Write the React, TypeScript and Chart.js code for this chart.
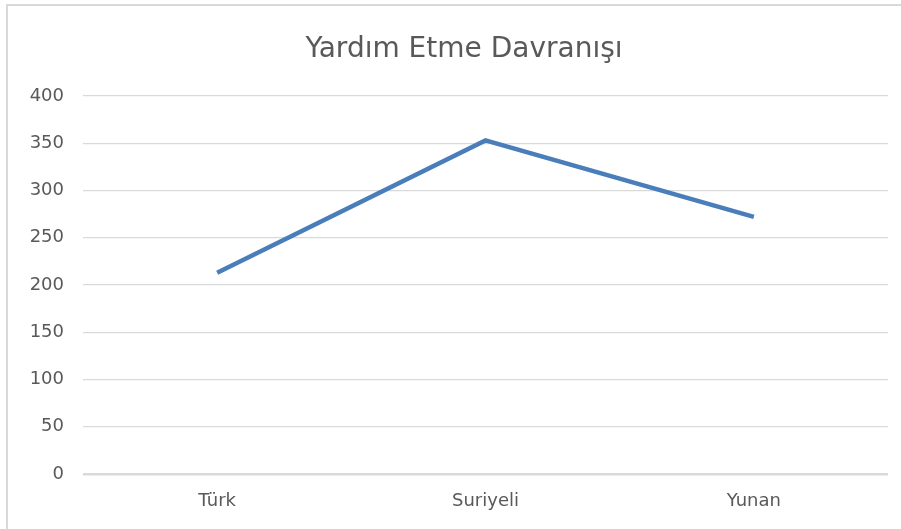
import React, { useEffect, useRef } from "react";
import { Chart, registerables } from "chart.js";

Chart.register(...registerables);

const categories = ["Türk", "Suriyeli", "Yunan"];
const values = [213, 353, 272];
const yTicks = [0, 50, 100, 150, 200, 250, 300, 350, 400];
const title = "Yardım Etme Davranışı";

const titlePlugin = {
  id: "offsetTitle",
  afterDraw(chart: any) {
    const c = chart.ctx;
    c.save();
    c.font = "normal 28px 'DejaVu Sans'";
    c.fillStyle = "#595959";
    c.textAlign = "center";
    c.textBaseline = "alphabetic";
    c.fillText(title, 464, 57);
    c.restore();
  },
};

export default function App() {
  const ref = useRef<HTMLCanvasElement | null>(null);
  useEffect(() => {
    document.body.style.margin = "0";
    const ctx = ref.current!;
    const chart = new Chart(ctx, {
      type: "line",
      data: {
        labels: categories,
        datasets: [
          {
            data: values,
            borderColor: "#4a7ebb",
            borderWidth: 4.5,
            pointRadius: 0,
            tension: 0,
            fill: false,
          },
        ],
      },
      options: {
        animation: false,
        responsive: false,
        layout: { padding: { left: 0, right: 13, top: 96, bottom: 0 } },
        plugins: {
          legend: { display: false },
          tooltip: { enabled: false },
          title: { display: false },
        },
        scales: {
          x: {
            offset: true,
            grid: { display: false, drawTicks: false },
            border: { display: false },
            ticks: {
              color: "#595959",
              font: { family: "DejaVu Sans", size: 18 },
              padding: 17,
            },
            afterFit: (s: any) => {
              s.height = 55;
            },
          },
          y: {
            min: 0,
            max: 400,
            afterBuildTicks: (s: any) => {
              s.ticks = yTicks.map((v) => ({ value: v }));
            },
            grid: {
              drawTicks: false,
              color: "#d9d9d9",
              lineWidth: (c: any) => (c.tick && c.tick.value === 0 ? 2.5 : 1.2),
            },
            border: { display: false },
            ticks: {
              color: "#595959",
              font: { family: "DejaVu Sans", size: 18 },
              padding: 19,
            },
            afterFit: (s: any) => {
              s.width = 83;
            },
          },
        },
      },
      plugins: [titlePlugin],
    });
    return () => chart.destroy();
  }, []);
  return (
    <div style={{ position: "relative", width: 901, height: 529, overflow: "hidden" }}>
      <div
        style={{
          position: "absolute",
          left: 6,
          top: 4,
          width: 920,
          height: 540,
          border: "2px solid #d9d9d9",
          boxSizing: "border-box",
        }}
      />
      <canvas ref={ref} width={901} height={529} style={{ position: "absolute", left: 0, top: 0 }} />
    </div>
  );
}
